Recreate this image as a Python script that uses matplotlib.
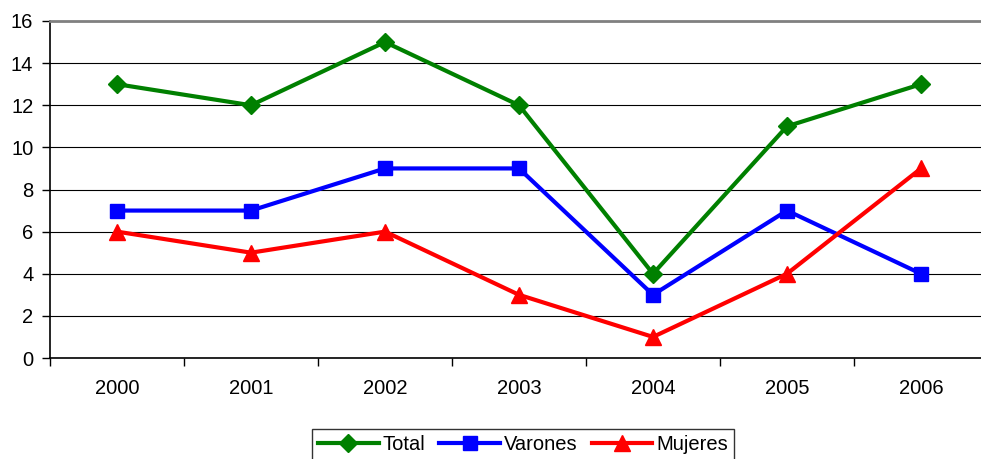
import matplotlib.pyplot as plt
import numpy as np

plt.rcParams['font.family'] = ['Liberation Sans', 'DejaVu Sans']

years = ['2000', '2001', '2002', '2003', '2004', '2005', '2006']
total = [13, 12, 15, 12, 4, 11, 13]
varones = [7, 7, 9, 9, 3, 7, 4]
mujeres = [6, 5, 6, 3, 1, 4, 9]

fig = plt.figure(figsize=(9.81, 4.59), dpi=100)
ax = fig.add_axes([50 / 981, 101 / 459, 938 / 981, 337 / 459])

x = np.arange(len(years))
ax.plot(x, total, color='#008000', lw=3, marker='D', ms=9, label='Total')
ax.plot(x, varones, color='#0000ff', lw=3, marker='s', ms=10, label='Varones')
ax.plot(x, mujeres, color='#ff0000', lw=3, marker='^', ms=11, label='Mujeres')

ax.set_xlim(-0.5, len(years) - 0.5)
ax.set_ylim(0, 16)
ax.set_yticks(np.arange(0, 17, 2))
ax.yaxis.grid(True, color='black', lw=0.8)
ax.set_axisbelow(True)

ax.set_xticks(x)
ax.set_xticklabels(years)
ax.set_xticks(np.arange(-0.5, len(years)), minor=True)
ax.tick_params(axis='x', which='major', length=0, pad=15, labelsize=14.5)
ax.tick_params(axis='x', which='minor', length=6, width=1, direction='out')
ax.tick_params(axis='y', length=6, width=1, labelsize=14.5, pad=6)

ax.spines['right'].set_visible(False)
ax.spines['top'].set_color('#808080')
ax.spines['top'].set_linewidth(2)
ax.spines['left'].set_linewidth(1.2)
ax.spines['bottom'].set_linewidth(1.2)

leg = fig.legend(loc='upper center', bbox_to_anchor=(523 / 981, 1 - 429 / 459), ncol=3,
                 fontsize=14.5, frameon=True, fancybox=False, edgecolor='black',
                 handlelength=3.0, handletextpad=0.2, columnspacing=0.7,
                 borderpad=0.3, borderaxespad=0)
leg.get_frame().set_linewidth(1)

fig.savefig('out.png', dpi=100)
